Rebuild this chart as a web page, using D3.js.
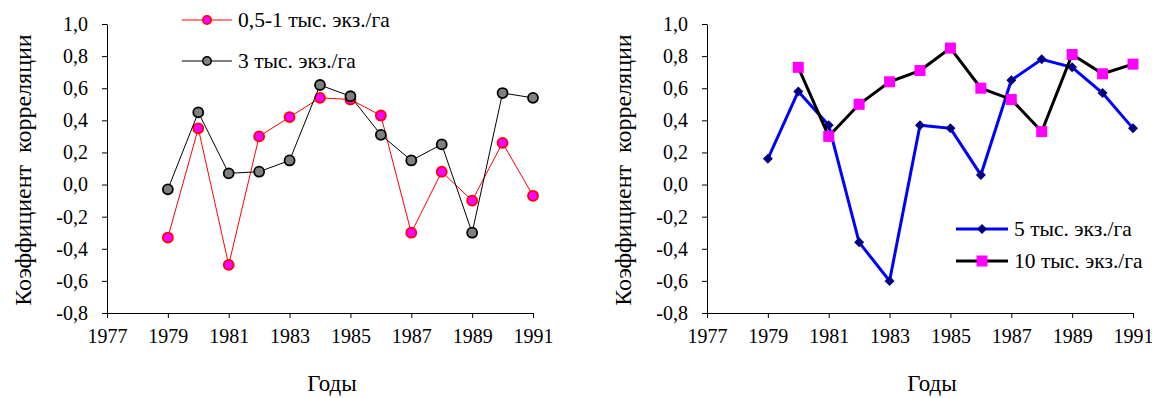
<!DOCTYPE html>
<html>
<head>
<meta charset="utf-8">
<script src="https://cdnjs.cloudflare.com/ajax/libs/d3/7.8.5/d3.min.js"></script>
<style>
    body { margin: 0; background: #fff; }
    svg text { font-family: 'Liberation Serif', 'Times New Roman', serif; fill: #000; }
    .axis path, .axis line { stroke: #000; stroke-width: 1; }
    .axis text { font-size: 20px; }
    .title { font-size: 24px; }
    .legend text { font-size: 21.5px; }
</style>
</head>
<body>
<div id="chart"></div>
<script>
'use strict';

const FONT = "'Liberation Serif', 'Times New Roman', serif";

// years and tick labels
const years = [1979, 1980, 1981, 1982, 1983, 1984, 1985, 1986, 1987, 1988, 1989, 1990, 1991];
const xTicks = [1977, 1979, 1981, 1983, 1985, 1987, 1989, 1991];
const yTicks = [-0.8, -0.6, -0.4, -0.2, 0, 0.2, 0.4, 0.6, 0.8, 1.0];

// left panel
const dens05 = [-0.33, 0.35, -0.50, 0.30, 0.42, 0.54, 0.53, 0.43, -0.30, 0.08, -0.10, 0.26, -0.07];
const dens3  = [-0.03, 0.45, 0.07, 0.08, 0.15, 0.62, 0.55, 0.31, 0.15, 0.25, -0.30, 0.57, 0.54];

// right panel
const dens5  = [0.16, 0.58, 0.37, -0.36, -0.60, 0.37, 0.35, 0.06, 0.65, 0.78, 0.73, 0.57, 0.35];
const dens10 = [null, 0.73, 0.30, 0.50, 0.64, 0.71, 0.85, 0.60, 0.53, 0.33, 0.81, 0.69, 0.75];

const seriesNames = ['0,5-1 тыс. экз./га', '3 тыс. экз./га', '5 тыс. экз./га', '10 тыс. экз./га'];

var Charts = function charts() {

    let svg = null;

    let renderSVG = function createSVG(element) {
        svg = d3.select(element)
            .append('svg')
            .attr('width', 1152)
            .attr('height', 398);
        svg.append('rect').attr('width', 1152).attr('height', 398).attr('fill', '#fff');
    }

    // marker drawers
    let marker = {
        circle: (g, st) => g.append('circle').attr('r', st.r)
            .attr('fill', st.fill).attr('stroke', st.stroke).attr('stroke-width', st.sw),
        diamond: (g, st) => g.append('path').attr('d', d3.symbol(d3.symbolSquare, st.size)())
            .attr('transform', 'rotate(45)').attr('fill', st.fill),
        square: (g, st) => g.append('path').attr('d', d3.symbol(d3.symbolSquare, st.size)())
            .attr('fill', st.fill)
    };

    let renderPanel = function renderPanel(config, series) {

        let g = svg.append('g')
            .attr('transform', 'translate(' + config.left + ',0)');

        let xScale = d3.scaleLinear()
            .domain([1977, 1991])
            .range([0, config.width]);

        let yScale = d3.scaleLinear()
            .domain([-0.8, 1.0])
            .range([config.bottom, config.top]);

        let fmt = d => d3.format('.1f')(d).replace('.', ',').replace('−', '-');

        g.append('g')
            .attr('class', 'axis')
            .call(d3.axisLeft(yScale).tickValues(yTicks).tickFormat(fmt).tickSize(5).tickPadding(14).tickSizeOuter(0));

        g.append('g')
            .attr('class', 'axis')
            .attr('transform', 'translate(0,' + config.bottom + ')')
            .call(d3.axisBottom(xScale).tickValues(xTicks).tickFormat(d3.format('d')).tickSize(5).tickPadding(11).tickSizeOuter(0));

        g.selectAll('.axis').attr('font-family', FONT).attr('font-size', 20);

        // titles
        svg.append('text')
            .attr('class', 'title')
            .attr('text-anchor', 'middle')
            .attr('transform', 'translate(' + (config.left - 76) + ',170) rotate(-90)')
            .style('white-space', 'pre')
            .text('Коэффициент  корреляции');

        svg.append('text')
            .attr('class', 'title')
            .attr('text-anchor', 'middle')
            .attr('x', config.left + 225)
            .attr('y', 391)
            .style('font-size', '23px')
            .text('Годы');

        series.forEach(s => {
            let line = d3.line()
                .defined(d => d != null)
                .x((d, i) => xScale(years[i]))
                .y(d => yScale(d));

            g.append('path')
                .datum(s.values)
                .attr('fill', 'none')
                .attr('stroke', s.color)
                .attr('stroke-width', s.width)
                .attr('d', line);

            s.values.forEach((v, i) => {
                if (v == null) return;
                let m = g.append('g').attr('transform', 'translate(' + xScale(years[i]) + ',' + yScale(v) + ')');
                marker[s.shape](m, s.marker);
            });
        });

        // legend
        let legend = svg.append('g').attr('class', 'legend');
        series.forEach((s, i) => {
            let ly = config.legend.y + i * config.legend.step;
            let lx = config.legend.x;
            legend.append('line')
                .attr('x1', lx).attr('x2', lx + config.legend.len)
                .attr('y1', ly).attr('y2', ly)
                .attr('stroke', s.color).attr('stroke-width', s.width);
            let m = legend.append('g').attr('transform', 'translate(' + (lx + config.legend.len / 2) + ',' + ly + ')');
            marker[s.shape](m, s.legendMarker || s.marker);
            legend.append('text')
                .attr('x', lx + config.legend.len + 6)
                .attr('y', ly)
                .attr('dy', '0.33em')
                .text(s.name);
        });
    }

    let draw = function draw(el) {
        renderSVG(el);

        renderPanel({ left: 107, width: 426, top: 24, bottom: 313, legend: { x: 182, y: 20, step: 41, len: 50 } }, [
            { name: seriesNames[0], values: dens05, color: '#ff0000', width: 1, shape: 'circle',
              marker: { r: 5, fill: '#ff00ff', stroke: '#ff0000', sw: 1.8 },
              legendMarker: { r: 4.2, fill: '#ff00ff', stroke: '#ff0000', sw: 1.6 } },
            { name: seriesNames[1], values: dens3, color: '#000000', width: 1, shape: 'circle',
              marker: { r: 5, fill: '#808080', stroke: '#000000', sw: 1.8 },
              legendMarker: { r: 4.2, fill: '#808080', stroke: '#000000', sw: 1.6 } }
        ]);

        renderPanel({ left: 707, width: 426, top: 24, bottom: 313, legend: { x: 956, y: 229, step: 32, len: 52 } }, [
            { name: seriesNames[2], values: dens5, color: '#0000ff', width: 3, shape: 'diamond',
              marker: { size: 50, fill: '#000080' } },
            { name: seriesNames[3], values: dens10, color: '#000000', width: 3, shape: 'square',
              marker: { size: 121, fill: '#ff00ff' } }
        ]);
    }

    return { draw: draw };
}

Charts().draw('#chart');
</script>
</body>
</html>
